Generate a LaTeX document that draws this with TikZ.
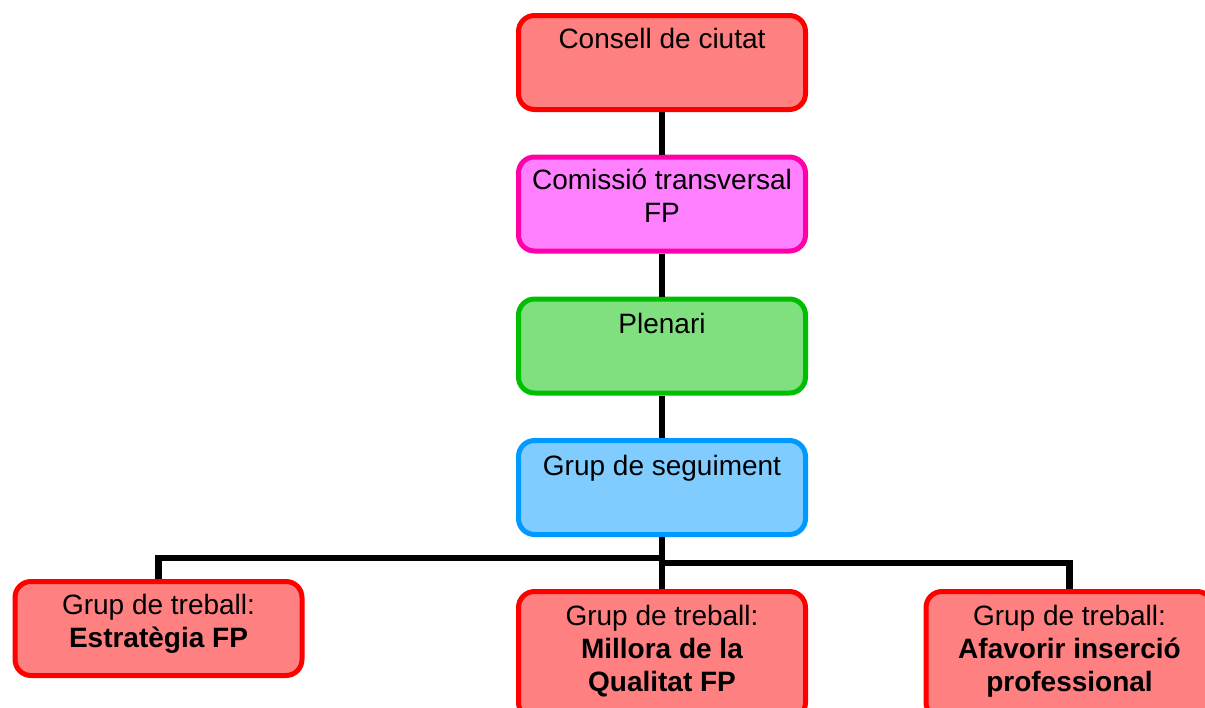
\documentclass[tikz,border=0pt]{standalone}
\usepackage{fontspec}
\setmainfont{Liberation Sans}
\usetikzlibrary{calc}
\definecolor{redfill}{HTML}{FF8080}
\definecolor{redline}{HTML}{FF0000}
\definecolor{magfill}{HTML}{FF80FF}
\definecolor{magline}{HTML}{FF00A8}
\definecolor{grnfill}{HTML}{80E080}
\definecolor{grnline}{HTML}{00BF00}
\definecolor{blufill}{HTML}{80CCFF}
\definecolor{bluline}{HTML}{0099FF}
\begin{document}
\begin{tikzpicture}[x=0.5pt,y=-0.5pt,
  box/.style={draw, line width=2.5pt, rounded corners=8pt,
    minimum width=143.5pt, minimum height=47pt, inner sep=0pt},
  tallbox/.style={box, minimum height=63.5pt},
  redbox/.style={draw=redline, fill=redfill},
  magbox/.style={draw=magline, fill=magfill},
  grnbox/.style={draw=grnline, fill=grnfill},
  blubox/.style={draw=bluline, fill=blufill},
  txt/.style={anchor=base, align=center, inner sep=0pt,
    font=\fontsize{14}{16.5}\selectfont},
  conn/.style={draw=black, line width=3.4pt}]
\useasboundingbox (0,0) rectangle (1205,707);
\clip (0,0) rectangle (1205,707);
% boxes
\node[box, redbox] (b1) at (662,62.5) {};
\node[box, magbox] (b2) at (662,204) {};
\node[box, grnbox] (b3) at (662,346) {};
\node[box, blubox] (b4) at (662,487.5) {};
\node[box, redbox] (b5) at (158.5,628.5) {};
\node[tallbox, redbox] (b6) at (662,655) {};
\node[tallbox, redbox] (b7) at (1069.5,655) {};
% connectors
\coordinate (jl) at (662,558);
\coordinate (jr) at (662,563);
\draw[conn] (b1) -- (b2);
\draw[conn] (b2) -- (b3);
\draw[conn] (b3) -- (b4);
\draw[conn] (b4) -- (b6);
\draw[conn] (b5.north) |- (jl);
\draw[conn] (b7.north) |- (jr);
% texts (base anchor of a multi-line node = baseline of its last line)
\node[txt] (t1) at ($(b1.north)+(0,35)$) {Consell de ciutat};
\node[txt] (t2) at ($(b2.north)+(0,36+32)$) {Comissió transversal\\FP};
\node[txt] (t3) at ($(b3.north)+(0,37)$) {Plenari};
\node[txt] (t4) at ($(b4.north)+(0,37)$) {Grup de seguiment};
\node[txt] (t5) at ($(b5.north)+(0,35+33)$) {Grup de treball:\\\textbf{Estratègia FP}};
\node[txt] (t6) at ($(b6.north)+(0,36+66)$) {Grup de treball:\\\textbf{Millora de la}\\\textbf{Qualitat FP}};
\node[txt] (t7) at ($(b7.north)+(0,36+66)$) {Grup de treball:\\\textbf{Afavorir inserció}\\\textbf{professional}};
\end{tikzpicture}
\end{document}
